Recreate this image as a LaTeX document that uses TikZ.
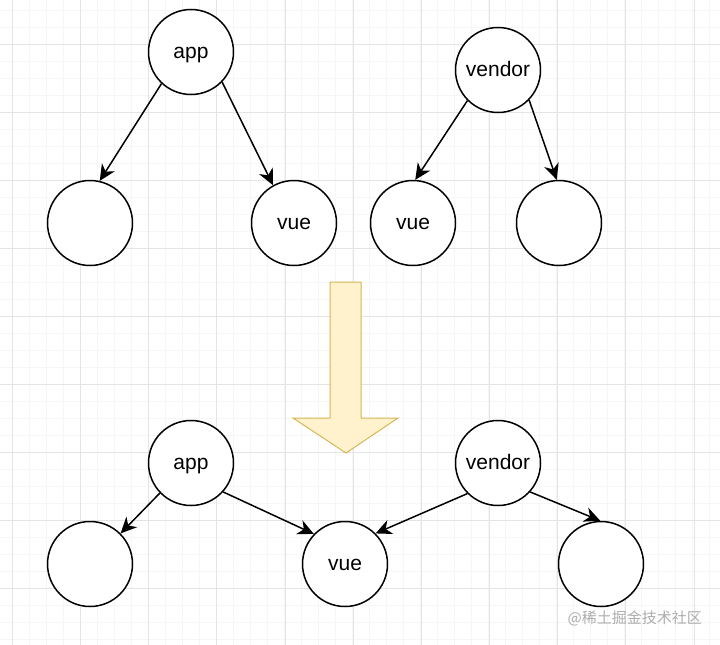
\documentclass[tikz,border=0pt]{standalone}
\usepackage{fontspec}
\setmainfont{Liberation Sans}
\newfontfamily\cjkfont{Noto Sans CJK SC}
\usetikzlibrary{arrows.meta}
\definecolor{gridmajor}{HTML}{E4E4E4}
\definecolor{gridminor}{HTML}{F6F6F6}
\definecolor{arrowfill}{HTML}{FFF2CC}
\definecolor{arrowdraw}{HTML}{D6B656}
\definecolor{wmark}{HTML}{ADADAD}
\tikzset{
  tree/.style={circle, draw=black, line width=1.5pt, minimum size=85pt, inner sep=0pt, fill=white, font=\fontsize{21}{24}\selectfont, text height=14pt, text depth=2pt},
  link/.style={line width=1.5pt, -{Stealth[length=16pt,width=15pt,inset=5pt]}},
  minorline/.style={gridminor, line width=0.8pt},
  majorline/.style={gridmajor, line width=1pt},
  bigarrow/.style={fill=arrowfill, draw=arrowdraw, line width=1pt, line join=miter},
  watermark/.style={text=wmark, font=\cjkfont\fontsize{15}{17}\selectfont, inner sep=0pt}
}
\begin{document}
\begin{tikzpicture}[x=1pt,y=-1pt]
\useasboundingbox (0,0) rectangle (720,645);
\fill[white] (0,0) rectangle (720,645);
% grid
\foreach \i in {-1,...,42} {
  \draw[minorline] (12.5+17*\i,0) -- (12.5+17*\i,645);
}
\foreach \i in {0,...,38} {
  \draw[minorline] (0,10+17*\i) -- (720,10+17*\i);
}
\foreach \i in {0,...,10} {
  \draw[majorline] (12.5+68.15*\i,0) -- (12.5+68.15*\i,645);
}
\foreach \i in {-1,...,9} {
  \draw[majorline] (0,44+68*\i) -- (720,44+68*\i);
}
% top tree
\node[tree] (app1) at (191,52) {app};
\node[tree] (vendor1) at (498,70) {vendor};
\node[tree] (e1) at (90,223) {};
\node[tree] (vueA) at (294,223) {vue};
\node[tree] (vueB) at (413,223) {vue};
\node[tree] (e2) at (559,223) {};
\draw[link] (app1.227) -- (e1.77);
\draw[link] (app1.316) -- (vueA.119);
\draw[link] (vendor1.225) -- (vueB.87);
\draw[link] (vendor1.316) -- (e2.93);
% big arrow
\draw[bigarrow] (330,282) -- (361,282) -- (361,418) -- (398,418) -- (346,453) -- (293,418) -- (330,418) -- cycle;
% bottom tree
\node[tree] (app2) at (191,463) {app};
\node[tree] (vendor2) at (498,463) {vendor};
\node[tree] (e3) at (90,564) {};
\node[tree] (vueC) at (345,564) {vue};
\node[tree] (e4) at (601,564) {};
\draw[link] (app2.224) -- (e3.45);
\draw[link] (app2.318) -- (vueC.136);
\draw[link] (vendor2.225) -- (vueC.45);
\draw[link] (vendor2.318) -- (e4.91);
% watermark
\node[watermark, anchor=east] (wm) at (702,618) {@稀土掘金技术社区};
\end{tikzpicture}
\end{document}
